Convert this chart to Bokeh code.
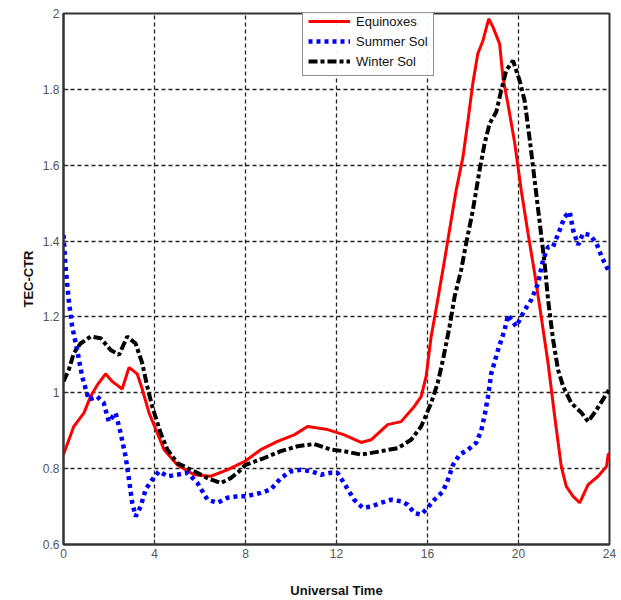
from bokeh.plotting import figure
from bokeh.models import Range1d, FixedTicker, Legend, LegendItem
from bokeh.embed import file_html
from bokeh.resources import INLINE

# ---- data ----
equinox_t = [0, 0.45, 0.9, 1.19, 1.48, 1.85, 2.14, 2.58, 2.88, 3.24, 3.46, 3.76, 4.12, 4.42,
             5.0, 5.74, 6.47, 7.2, 7.65, 8.0, 8.67, 9.41, 10.14, 10.73, 11.61, 12.34, 13.08,
             13.52, 14.25, 14.84, 15.42, 15.72, 15.94, 16.16, 16.45, 16.75, 17.04, 17.26,
             17.56, 17.78, 17.99, 18.21, 18.44, 18.69, 18.88, 19.17, 19.32, 19.54, 19.83,
             20.12, 20.42, 20.71, 21.0, 21.3, 21.59, 21.88, 22.1, 22.4, 22.69, 23.06, 23.5,
             23.87, 23.94, 24.0]
equinox_v = [0.837, 0.911, 0.947, 0.99, 1.02, 1.05, 1.03, 1.01, 1.067, 1.05, 1.01, 0.947,
             0.894, 0.85, 0.81, 0.784, 0.78, 0.797, 0.81, 0.82, 0.85, 0.872, 0.889, 0.911,
             0.903, 0.889, 0.869, 0.876, 0.916, 0.924, 0.964, 0.99, 1.043, 1.148, 1.245, 1.35,
             1.455, 1.534, 1.622, 1.718, 1.815, 1.894, 1.929, 1.986, 1.964, 1.92, 1.83, 1.76,
             1.66, 1.534, 1.42, 1.315, 1.20, 1.078, 0.938, 0.806, 0.753, 0.727, 0.71, 0.758,
             0.78, 0.806, 0.837, 0.84]

summer_t = [0, 0.09, 0.23, 0.38, 0.6, 0.82, 1.11, 1.48, 1.77, 1.99, 2.29, 2.51, 2.73, 2.88,
            3.02, 3.17, 3.39, 3.61, 3.9, 4.2, 4.57, 5.0, 5.45, 5.89, 6.33, 6.77, 7.2, 7.65,
            8.0, 8.67, 9.11, 9.55, 10.0, 10.44, 10.88, 11.32, 11.76, 12.05, 12.42, 12.78,
            13.15, 13.52, 13.96, 14.4, 14.84, 15.13, 15.42, 15.72, 16.01, 16.3, 16.68, 16.9,
            17.12, 17.41, 17.78, 18.14, 18.36, 18.51, 18.66, 18.8, 19.1, 19.39, 19.54, 19.9,
            20.27, 20.56, 20.86, 21.08, 21.3, 21.52, 21.81, 22.03, 22.25, 22.4, 22.62, 22.84,
            23.14, 23.43, 23.65, 23.94]
summer_v = [1.416, 1.332, 1.245, 1.175, 1.113, 1.043, 0.982, 0.99, 0.973, 0.924, 0.947, 0.894,
            0.832, 0.771, 0.71, 0.674, 0.70, 0.745, 0.771, 0.793, 0.78, 0.784, 0.789, 0.762,
            0.718, 0.71, 0.723, 0.727, 0.727, 0.736, 0.745, 0.775, 0.793, 0.797, 0.793, 0.784,
            0.789, 0.789, 0.753, 0.718, 0.697, 0.70, 0.71, 0.718, 0.714, 0.705, 0.683, 0.679,
            0.697, 0.718, 0.74, 0.771, 0.81, 0.837, 0.85, 0.868, 0.90, 0.94, 0.99, 1.05,
            1.113, 1.166, 1.205, 1.175, 1.218, 1.245, 1.289, 1.35, 1.385, 1.385, 1.429, 1.464,
            1.477, 1.429, 1.39, 1.42, 1.416, 1.394, 1.359, 1.324]

winter_t = [0, 0.23, 0.45, 0.75, 1.19, 1.63, 2.07, 2.44, 2.8, 3.17, 3.46, 3.68, 3.9, 4.27,
            4.57, 5.0, 5.74, 6.33, 6.91, 7.35, 7.72, 8.0, 8.82, 9.55, 10.29, 11.02, 11.76,
            12.34, 13.08, 13.96, 14.69, 15.28, 15.72, 16.16, 16.45, 16.68, 16.97, 17.19,
            17.48, 17.7, 17.99, 18.29, 18.51, 18.73, 19.02, 19.24, 19.46, 19.76, 20.05,
            20.27, 20.49, 20.71, 20.93, 21.15, 21.3, 21.52, 21.74, 21.96, 22.32, 22.77, 23.06,
            23.43, 23.79, 24.0]
winter_v = [1.03, 1.06, 1.104, 1.13, 1.148, 1.144, 1.113, 1.10, 1.148, 1.13, 1.078, 1.017,
            0.964, 0.894, 0.85, 0.815, 0.793, 0.775, 0.762, 0.775, 0.793, 0.81, 0.828, 0.846,
            0.859, 0.865, 0.85, 0.846, 0.837, 0.846, 0.854, 0.876, 0.911, 0.973, 1.026, 1.087,
            1.175, 1.253, 1.324, 1.394, 1.48, 1.587, 1.657, 1.71, 1.74, 1.797, 1.85, 1.876,
            1.823, 1.77, 1.67, 1.56, 1.45, 1.34, 1.245, 1.14, 1.06, 1.017, 0.973, 0.947, 0.924,
            0.955, 0.99, 1.01]

series_names = ["Equinoxes", "Summer Sol", "Winter Sol"]
x_ticks = [0, 4, 8, 12, 16, 20, 24]
y_ticks = [0.6, 0.8, 1.0, 1.2, 1.4, 1.6, 1.8, 2.0]
y_tick_labels = ["0.6", "0.8", "1", "1.2", "1.4", "1.6", "1.8", "2"]

FONT = "Liberation Sans"

p = figure(width=621, height=600, output_backend="svg", toolbar_location=None,
           x_range=Range1d(0, 24), y_range=Range1d(0.6, 2.0),
           min_border_left=63, min_border_right=12, min_border_top=13, min_border_bottom=55)
p.background_fill_color = "white"
p.border_fill_color = "white"
p.outline_line_color = "#333333"
p.outline_line_width = 2

r_eq = p.line(equinox_t, equinox_v, line_color="#ff0000", line_width=3)
r_su = p.line(summer_t, summer_v, line_color="#0000ff", line_width=4.5, line_dash="4 4")
r_wi = p.line(winter_t, winter_v, line_color="#000000", line_width=4, line_dash="9 3 4 3")

for ax in (p.xaxis[0], p.yaxis[0]):
    ax.major_label_text_font = FONT
    ax.major_label_text_font_size = "12px"
    ax.major_label_text_color = "#555555"
    ax.axis_label_text_font = FONT
    ax.axis_label_text_font_size = "13px"
    ax.axis_label_text_font_style = "bold"
    ax.axis_label_text_color = "#111111"
    ax.axis_line_color = "#333333"
    ax.axis_line_width = 2
    ax.major_tick_in = 5
    ax.major_tick_out = 0
    ax.minor_tick_in = 0
    ax.minor_tick_out = 0
    ax.major_tick_line_color = "#333333"

p.xaxis.ticker = FixedTicker(ticks=x_ticks)
p.yaxis.ticker = FixedTicker(ticks=y_ticks)
p.yaxis.major_label_overrides = {t: l for t, l in zip(y_ticks, y_tick_labels)}
p.xaxis.axis_label = "Universal Time"
p.yaxis.axis_label = "TEC-CTR"
p.xaxis.major_label_standoff = 4
p.xaxis.axis_label_standoff = 22
p.yaxis.major_label_standoff = 4
p.yaxis.axis_label_standoff = 4

p.grid.grid_line_color = "#222222"
p.grid.grid_line_dash = "4 3"
p.grid.grid_line_width = 1.3

legend = Legend(items=[LegendItem(label=series_names[0], renderers=[r_eq]),
                       LegendItem(label=series_names[1], renderers=[r_su]),
                       LegendItem(label=series_names[2], renderers=[r_wi])],
                location=(239, 468))
legend.label_text_font = FONT
legend.label_text_font_size = "13px"
legend.label_text_color = "#111111"
legend.border_line_color = "#222222"
legend.border_line_width = 1.5
legend.glyph_width = 42
legend.glyph_height = 18
legend.label_standoff = 6
legend.spacing = 2
legend.padding = 5
legend.margin = 0
legend.label_height = 18
p.add_layout(legend)

open("out.html", "w").write(file_html(p, INLINE))
